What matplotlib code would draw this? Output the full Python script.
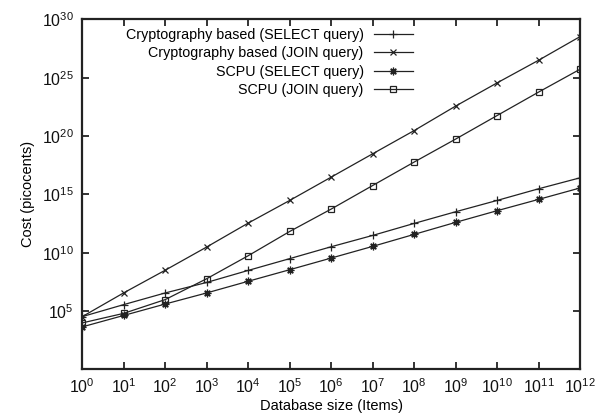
import numpy as np
import matplotlib
matplotlib.use("Agg")
import matplotlib.pyplot as plt

plt.rcParams['font.family'] = ['Liberation Sans', 'DejaVu Sans']
plt.rcParams['mathtext.fontset'] = 'custom'
plt.rcParams['mathtext.rm'] = 'Liberation Sans'

# database size exponents (10^0 .. 10^12)
size_exp = np.arange(0, 13)
db_size = 10.0 ** size_exp

# cost, as log10(picocents)
crypto_select_log = [4.52, 5.55, 6.55, 7.45, 8.48, 9.49, 10.51, 11.48, 12.51, 13.51, 14.48, 15.48, 16.42]
crypto_join_log = [4.52, 6.56, 8.50, 10.49, 12.54, 14.48, 16.48, 18.48, 20.47, 22.57, 24.56, 26.50, 28.53]
scpu_select_log = [3.64, 4.62, 5.60, 6.55, 7.55, 8.54, 9.54, 10.54, 11.57, 12.60, 13.60, 14.57, 15.55]
scpu_join_log = [3.98, 4.80, 5.98, 7.77, 9.74, 11.82, 13.74, 15.76, 17.77, 19.74, 21.76, 23.77, 25.73]

labels = ["Cryptography based (SELECT query)",
          "Cryptography based (JOIN query)",
          "SCPU (SELECT query)",
          "SCPU (JOIN query)"]

fig = plt.figure(figsize=(6.07, 4.19), dpi=100)
ax = fig.add_axes([0.1356, 0.1186, 0.9555 - 0.1356, 0.9535 - 0.1186])

lc = '#222222'
ax.plot(db_size, 10.0 ** np.array(crypto_select_log), color=lc, lw=0.9,
        marker='+', ms=6, mew=0.9, label=labels[0])
ax.plot(db_size, 10.0 ** np.array(crypto_join_log), color=lc, lw=0.9,
        marker='x', ms=5, mew=0.9, label=labels[1])
ax.plot(db_size, 10.0 ** np.array(scpu_select_log), color=lc, lw=0.9,
        marker=(8, 2, 0), ms=5.5, mew=0.9, label=labels[2])
ax.plot(db_size, 10.0 ** np.array(scpu_join_log), color=lc, lw=0.9,
        marker='s', ms=4.5, mew=0.9, mfc='none', label=labels[3])

ax.set_xscale('log')
ax.set_yscale('log')
ax.set_xlim(1, 1e12)
ax.set_ylim(1, 1e30)
ax.set_xticks(db_size)
ax.set_yticks([1e5, 1e10, 1e15, 1e20, 1e25, 1e30])
ax.minorticks_off()
ax.tick_params(which='major', direction='in', length=5, width=1.2,
               top=True, right=True, labelsize=11.5, pad=6, colors='#111111')
for sp in ax.spines.values():
    sp.set_linewidth(1.6)
    sp.set_color('#222222')

ax.set_xlabel("Database size (Items)", fontsize=10.5, labelpad=2)
ax.set_ylabel("Cost (picocents)", fontsize=10.5, labelpad=5)

ax.legend(loc='upper right', bbox_to_anchor=(413 / 607, 1 - 28 / 419),
          bbox_transform=fig.transFigure, frameon=False, markerfirst=False,
          fontsize=10.3, handlelength=2.75, handletextpad=0.7, labelspacing=0.31,
          borderpad=0, borderaxespad=0)

fig.savefig("out.png", dpi=100)
